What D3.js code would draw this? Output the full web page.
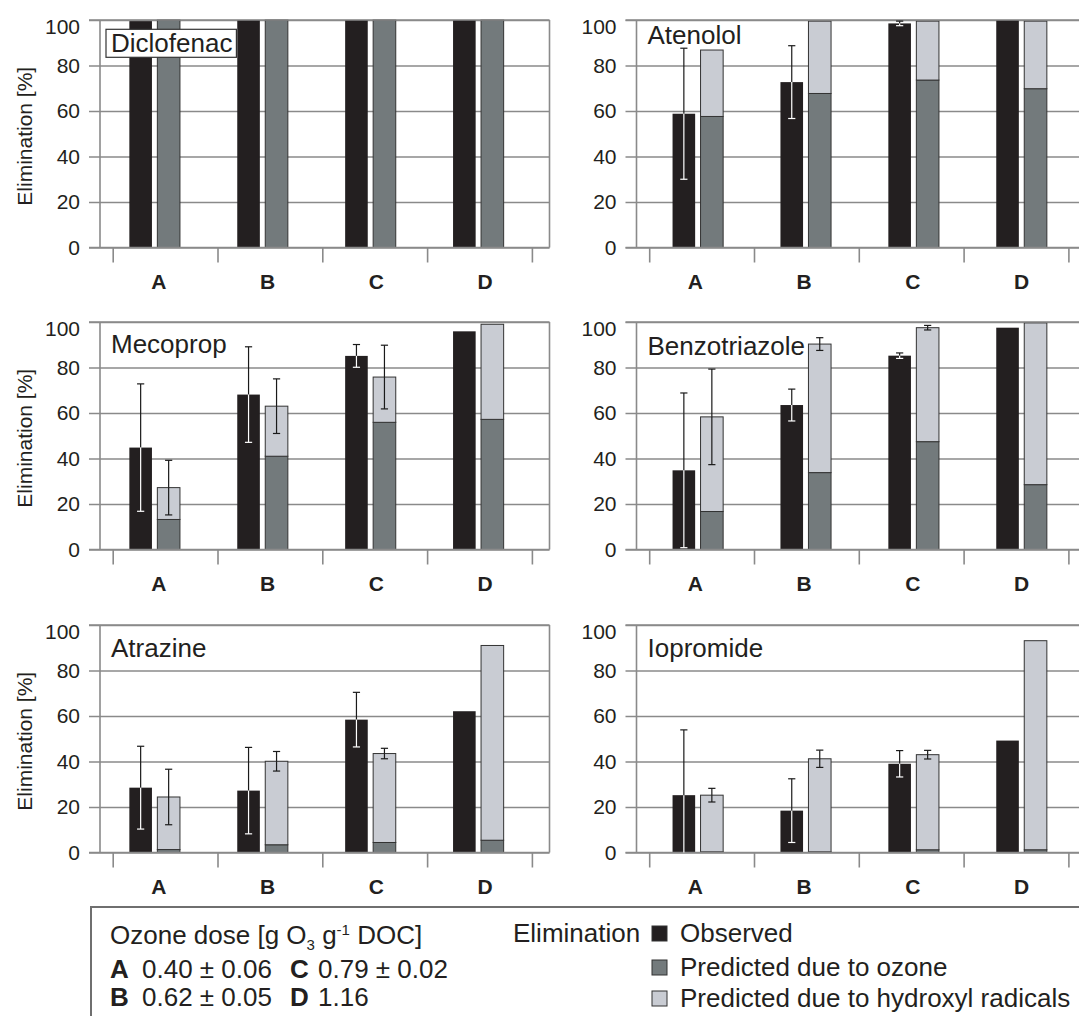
<!DOCTYPE html>
<html>
<head>
<meta charset="utf-8">
<script src="https://cdn.jsdelivr.net/npm/d3@7"></script>
<style>
  body { margin: 0; background: #fff; }
  svg { display: block; font-family: "Liberation Sans", Arial, sans-serif; }
</style>
</head>
<body>
<div id="chart"></div>
<script>
// ---- data ----
const categories = ["A", "B", "C", "D"];
const compounds = ["Diclofenac", "Atenolol", "Mecoprop", "Benzotriazole", "Atrazine", "Iopromide"];

// observed elimination, its error, predicted due to ozone, predicted total (ozone + OH), predicted error
const diclofenacObs = [99.5, 100, 100, 100];
const diclofenacObsErr = [null, null, null, null];
const diclofenacOzone = [100, 100, 100, 100];
const diclofenacPred = [100, 100, 100, 100];
const diclofenacPredErr = [null, null, null, null];

const atenololObs = [58.8, 72.7, 98.5, 100];
const atenololObsErr = [28.8, 16, 1, null];
const atenololOzone = [57.6, 67.7, 73.6, 69.8];
const atenololPred = [86.8, 99.5, 99.5, 99.5];
const atenololPredErr = [null, null, null, null];

const mecopropObs = [44.8, 68.1, 85.1, 95.9];
const mecopropObsErr = [28, 21, 5, null];
const mecopropOzone = [13.2, 41, 55.9, 57.2];
const mecopropPred = [27.2, 63, 75.8, 99];
const mecopropPredErr = [12, 12, 14, null];

const benzotriazoleObs = [34.8, 63.5, 85.2, 97.5];
const benzotriazoleObsErr = [34, 7, 1.2, null];
const benzotriazoleOzone = [16.7, 33.8, 47.4, 28.5];
const benzotriazolePred = [58.3, 90.3, 97.5, 99.6];
const benzotriazolePredErr = [21, 2.8, 1, null];

const atrazineObs = [28.5, 27.2, 58.4, 62.1];
const atrazineObsErr = [18.2, 19, 12, null];
const atrazineOzone = [1.3, 3.4, 4.4, 5.4];
const atrazinePred = [24.4, 40.1, 43.5, 91];
const atrazinePredErr = [12.2, 4.3, 2.3, null];

const iopromideObs = [25.2, 18.4, 39, 49.2];
const iopromideObsErr = [28.7, 14, 5.8, null];
const iopromideOzone = [0.3, 0.3, 1.2, 1.2];
const iopromidePred = [25.2, 41.2, 43, 93.1];
const iopromidePredErr = [3, 3.8, 1.9, null];

const yTicks = [0, 20, 40, 60, 80, 100];
const doseValues = ["0.40 \u00b1 0.06", "0.62 \u00b1 0.05", "0.79 \u00b1 0.02", "1.16"];
const seriesNames = ["Observed", "Predicted due to ozone", "Predicted due to hydroxyl radicals"];

const panels = [
  { name: compounds[0], obs: diclofenacObs, obsErr: diclofenacObsErr, ozone: diclofenacOzone, pred: diclofenacPred, predErr: diclofenacPredErr },
  { name: compounds[1], obs: atenololObs, obsErr: atenololObsErr, ozone: atenololOzone, pred: atenololPred, predErr: atenololPredErr },
  { name: compounds[2], obs: mecopropObs, obsErr: mecopropObsErr, ozone: mecopropOzone, pred: mecopropPred, predErr: mecopropPredErr },
  { name: compounds[3], obs: benzotriazoleObs, obsErr: benzotriazoleObsErr, ozone: benzotriazoleOzone, pred: benzotriazolePred, predErr: benzotriazolePredErr },
  { name: compounds[4], obs: atrazineObs, obsErr: atrazineObsErr, ozone: atrazineOzone, pred: atrazinePred, predErr: atrazinePredErr },
  { name: compounds[5], obs: iopromideObs, obsErr: iopromideObsErr, ozone: iopromideOzone, pred: iopromidePred, predErr: iopromidePredErr }
];

// ---- layout ----
const colors = { obs: "#231f20", ozone: "#737a7c", oh: "#c9ccd3", grid: "#8a8a8a", text: "#231f20", edge: "#333" };
const colLeft = [100, 636.5];     // plot left edge per column
const barShift = [0.6, 7.3];      // bar groups sit slightly differently in each column
const rowTop = [20, 322, 625];
const plotW = 449.5, plotH = 227.5;
const titleDy = [32, 24, 31, 33, 32, 32];
const barW = 22.6;

const svg = d3.select("#chart").append("svg")
  .attr("width", 1079)
  .attr("height", 1016);

function drawPanel(p, i) {
  const col = i % 2, row = Math.floor(i / 2);
  const pl = colLeft[col], top = rowTop[row], zero = top + plotH;
  const g = svg.append("g");

  const y = d3.scaleLinear().domain([0, 100]).range([zero, top]);
  const xBar = d3.scaleBand().domain(categories).range([pl + barShift[col], pl + barShift[col] + 431.6]);
  const xLab = d3.scaleBand().domain(categories).range([pl + 4.5, pl + 439.5]);
  const xTick = d3.scaleLinear().domain([0, 4]).range([pl + 12.7, pl + 431.9]);

  // gridlines + y labels
  const yAxis = g.append("g")
    .attr("transform", "translate(" + (pl - 11) + ",0)")
    .call(d3.axisLeft(y).tickValues(yTicks).tickSize(-(plotW + 11)).tickPadding(9))
    .attr("font-family", null)
    .attr("font-size", 21)
    .style("color", colors.text);
  yAxis.select(".domain").remove();
  yAxis.selectAll(".tick line").attr("stroke", colors.grid).attr("stroke-width", 1.6);
  yAxis.selectAll(".tick text").filter(d => d === 100).attr("transform", "translate(0,6.5)");

  // x tick marks
  const xAxis = g.append("g")
    .attr("transform", "translate(0," + zero + ")")
    .call(d3.axisBottom(xTick).tickValues([0, 1, 2, 3, 4]).tickSize(15).tickFormat(""));
  xAxis.select(".domain").remove();
  xAxis.selectAll(".tick line").attr("stroke", colors.grid).attr("stroke-width", 1.6);

  // category labels
  const labAxis = g.append("g")
    .attr("transform", "translate(0," + zero + ")")
    .call(d3.axisBottom(xLab).tickSize(0).tickPadding(27))
    .attr("font-family", null)
    .attr("font-size", 21)
    .attr("font-weight", "bold")
    .style("color", colors.text);
  labAxis.select(".domain").remove();

  // plot frame sides
  g.append("line").attr("x1", pl).attr("x2", pl).attr("y1", top).attr("y2", zero)
    .attr("stroke", colors.grid).attr("stroke-width", 1.6);
  g.append("line").attr("x1", pl + plotW).attr("x2", pl + plotW).attr("y1", top).attr("y2", zero)
    .attr("stroke", colors.grid).attr("stroke-width", 1.6);

  const center = c => xBar(c) + xBar.bandwidth() / 2;

  // observed bars
  g.selectAll(".obs").data(categories).enter().append("rect")
    .attr("x", c => center(c) - 25.2)
    .attr("y", (c, k) => y(p.obs[k]))
    .attr("width", barW)
    .attr("height", (c, k) => zero - y(p.obs[k]))
    .attr("fill", colors.obs);

  // predicted due to ozone
  g.selectAll(".ozone").data(categories).enter().append("rect")
    .attr("x", c => center(c) + 2.8)
    .attr("y", (c, k) => y(p.ozone[k]))
    .attr("width", barW)
    .attr("height", (c, k) => zero - y(p.ozone[k]))
    .attr("fill", colors.ozone)
    .attr("stroke", colors.edge).attr("stroke-width", 1);

  // predicted due to OH radicals (stacked)
  g.selectAll(".oh").data(categories).enter().append("rect")
    .filter((c, k) => p.pred[k] - p.ozone[k] > 0.05)
    .attr("x", c => center(c) + 2.8)
    .attr("y", c => y(p.pred[categories.indexOf(c)]))
    .attr("width", barW)
    .attr("height", c => { const k = categories.indexOf(c); return y(p.ozone[k]) - y(p.pred[k]); })
    .attr("fill", colors.oh)
    .attr("stroke", colors.edge).attr("stroke-width", 1);

  // top border and zero line on top of bars
  g.append("line").attr("x1", pl - 11).attr("x2", pl + plotW).attr("y1", top).attr("y2", top)
    .attr("stroke", colors.grid).attr("stroke-width", 1.6);
  g.append("line").attr("x1", pl - 11).attr("x2", pl + plotW).attr("y1", zero).attr("y2", zero)
    .attr("stroke", colors.grid).attr("stroke-width", 1.6);

  // error bars
  function errBar(cx, v, e, inside) {
    if (e == null) return;
    const lo = Math.max(0, v - e), hi = v + e;
    const outColor = "#1a1a1a";
    const inColor = inside ? "#fff" : outColor;
    g.append("line").attr("x1", cx).attr("x2", cx).attr("y1", y(v)).attr("y2", y(hi))
      .attr("stroke", outColor).attr("stroke-width", 1.2);
    g.append("line").attr("x1", cx - 3.6).attr("x2", cx + 3.6).attr("y1", y(hi)).attr("y2", y(hi))
      .attr("stroke", outColor).attr("stroke-width", 1.2);
    g.append("line").attr("x1", cx).attr("x2", cx).attr("y1", y(lo)).attr("y2", y(v))
      .attr("stroke", inColor).attr("stroke-width", 1.2);
    if (lo > 0.5) {
      g.append("line").attr("x1", cx - 3.6).attr("x2", cx + 3.6).attr("y1", y(lo)).attr("y2", y(lo))
        .attr("stroke", inColor).attr("stroke-width", 1.2);
    }
  }
  categories.forEach((c, k) => {
    errBar(center(c) - 25.2 + barW / 2, p.obs[k], p.obsErr[k], true);
    errBar(center(c) + 2.8 + barW / 2, p.pred[k], p.predErr[k], false);
  });

  // title
  const tx = pl + 11, ty = top + titleDy[i];
  if (i === 0) {
    const box = g.append("rect").attr("fill", "#fff").attr("stroke", colors.edge).attr("stroke-width", 1.2);
    const t = g.append("text").attr("x", tx).attr("y", ty).attr("font-size", 26).attr("fill", colors.text).text(p.name);
    const bb = t.node().getBBox();
    box.attr("x", bb.x - 5).attr("y", top + 9.3).attr("width", bb.width + 9).attr("height", 28);
  } else {
    g.append("text").attr("x", tx).attr("y", ty).attr("font-size", 26).attr("fill", colors.text).text(p.name);
  }

  // y title on left column
  if (col === 0) {
    g.append("text")
      .attr("transform", "translate(32," + ((top + zero) / 2 + 2.5) + ") rotate(-90)")
      .attr("text-anchor", "middle")
      .attr("font-size", 21)
      .attr("fill", colors.text)
      .text("Elimination [%]");
  }
}

panels.forEach(drawPanel);

// ---- legend ----
const legFont = 26;
const lg = svg.append("g").attr("fill", colors.text);
lg.append("path").attr("d", "M91,1020 L91,907 L1085,907")
  .attr("fill", "none").attr("stroke", "#6f6f6f").attr("stroke-width", 2);

const head = lg.append("text").attr("x", 110).attr("y", 944).attr("font-size", legFont);
head.append("tspan").text("Ozone dose [g O");
head.append("tspan").attr("font-size", 15).attr("dy", 6).text("3");
head.append("tspan").attr("dy", -6).text(" g");
head.append("tspan").attr("font-size", 15).attr("dy", -9).text("-1");
head.append("tspan").attr("dy", 9).text(" DOC]");

categories.forEach((c, k) => {
  const cx = k < 2 ? 110 : 290;
  const vx = k < 2 ? 142 : 318;
  const by = k % 2 === 0 ? 978 : 1006;
  lg.append("text").attr("x", cx).attr("y", by).attr("font-size", legFont).attr("font-weight", "bold").text(c);
  lg.append("text").attr("x", vx).attr("y", by).attr("font-size", legFont).text(doseValues[k]);
});

lg.append("text").attr("x", 513).attr("y", 942).attr("font-size", legFont).text("Elimination");
const swatch = [colors.obs, colors.ozone, colors.oh];
const legY = [942, 976, 1007];
seriesNames.forEach((s, k) => {
  lg.append("rect").attr("x", 652).attr("y", legY[k] - 16).attr("width", 15).attr("height", 15)
    .attr("fill", swatch[k]).attr("stroke", colors.edge).attr("stroke-width", 1);
  lg.append("text").attr("x", 680).attr("y", legY[k]).attr("font-size", legFont).text(s);
});
</script>
</body>
</html>
